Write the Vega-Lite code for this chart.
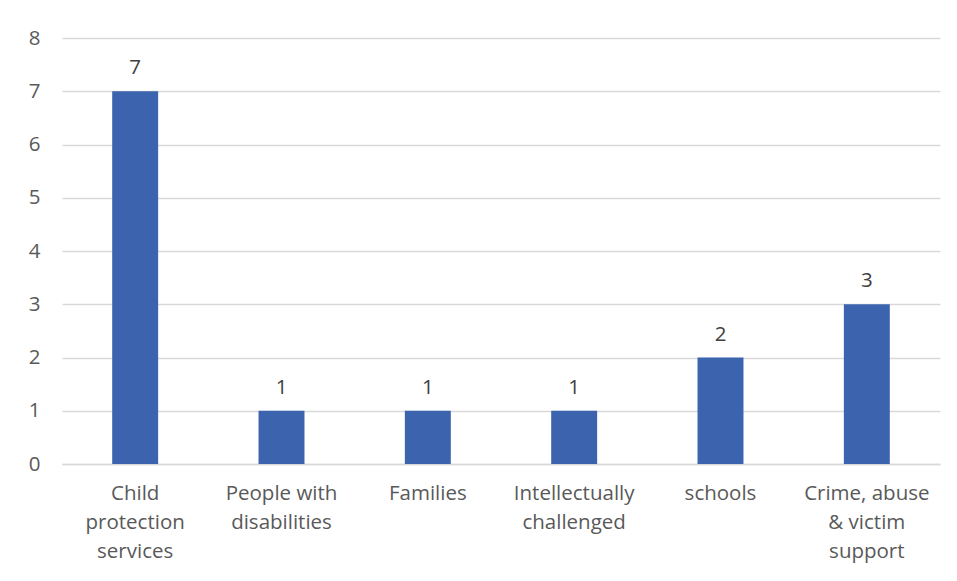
{
  "$schema": "https://vega.github.io/schema/vega-lite/v6.json",
  "width": 878,
  "height": 426,
  "autosize": {"type": "none"},
  "padding": {"left": 62, "top": 38, "right": 17, "bottom": 117},
  "background": "white",
  "config": {
    "view": {"stroke": null},
    "font": "Open Sans"
  },
  "data": {
    "values": [
      {"category": "Child|protection|services", "value": 7},
      {"category": "People with|disabilities", "value": 1},
      {"category": "Families", "value": 1},
      {"category": "Intellectually|challenged", "value": 1},
      {"category": "schools", "value": 2},
      {"category": "Crime, abuse|& victim|support", "value": 3}
    ]
  },
  "encoding": {
    "x": {
      "field": "category",
      "type": "nominal",
      "sort": null,
      "scale": {"paddingInner": 0.686, "paddingOuter": 0.343},
      "axis": {
        "title": null,
        "labelAngle": 0,
        "labelExpr": "split(datum.label, '|')",
        "labelFontSize": 20.5,
        "labelColor": "#595959",
        "labelLineHeight": 29,
        "labelPadding": 19,
        "labelBaseline": "top",
        "ticks": false,
        "domainColor": "#d9d9d9",
        "domainWidth": 1.5,
        "labelLimit": 300
      }
    },
    "y": {
      "field": "value",
      "type": "quantitative",
      "scale": {"domain": [0, 8]},
      "axis": {
        "title": null,
        "values": [0, 1, 2, 3, 4, 5, 6, 7, 8],
        "labelOverlap": false,
        "labelFontSize": 20.5,
        "labelColor": "#595959",
        "labelPadding": 22,
        "ticks": false,
        "domain": false,
        "gridColor": "#d9d9d9",
        "gridWidth": 1.5
      }
    }
  },
  "layer": [
    {"mark": {"type": "bar", "color": "#3c64ae"}},
    {
      "mark": {"type": "text", "baseline": "bottom", "dy": -13, "fontSize": 20.5, "color": "#404040"},
      "encoding": {"text": {"field": "value", "type": "quantitative"}}
    }
  ]
}
